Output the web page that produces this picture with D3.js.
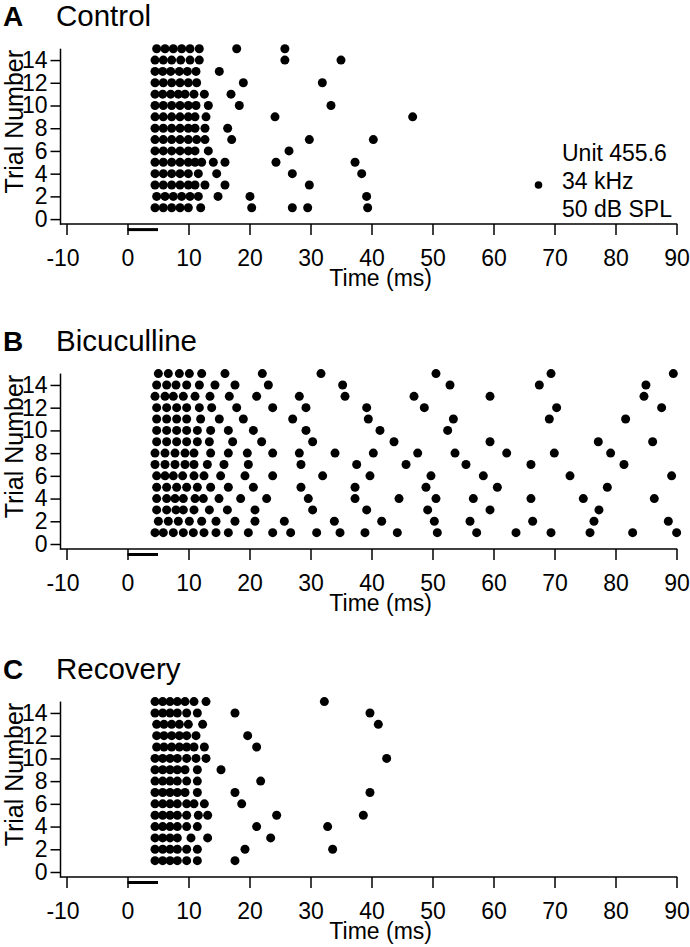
<!DOCTYPE html>
<html>
<head>
<meta charset="utf-8">
<script src="https://cdn.jsdelivr.net/npm/d3@7"></script>
<style>
  html, body { margin: 0; padding: 0; background: #fff; }
  svg text { font-family: "Liberation Sans", Arial, Helvetica, sans-serif; fill: #000; }
</style>
</head>
<body>
<svg id="chart" width="690" height="947"></svg>
<script>
// ---- DATA (spike times in ms, one array per trial, trial 1 first) ----
const panelLetters = ["A", "B", "C"];
const panelNames = ["Control", "Bicuculline", "Recovery"];
const xTicks = [-10, 0, 10, 20, 30, 40, 50, 60, 70, 80, 90];
const yTicks = [0, 2, 4, 6, 8, 10, 12, 14];
const stimulus = [0, 5];
const legendLines = ["Unit 455.6", "34 kHz", "50 dB SPL"];

const controlSpikes = [
  [4.51, 5.87, 7.24, 8.61, 9.97, 12.0, 20.36, 27.02, 29.54, 39.37],
  [4.78, 6.15, 7.51, 8.88, 10.25, 11.61, 14.84, 20.08, 39.2],
  [4.51, 5.87, 7.24, 8.61, 9.97, 11.07, 12.7, 15.98, 29.81],
  [4.51, 5.87, 7.24, 8.61, 9.97, 11.61, 14.62, 27.02, 38.39],
  [4.51, 5.87, 7.24, 8.61, 9.97, 11.07, 12.16, 14.07, 15.98, 24.34, 37.3],
  [4.51, 5.87, 7.24, 8.61, 9.97, 11.07, 13.25, 26.48],
  [4.51, 5.87, 7.24, 8.61, 9.97, 11.34, 12.7, 17.08, 29.81, 40.3],
  [4.51, 5.87, 7.24, 8.61, 9.97, 11.07, 12.7, 16.42],
  [4.51, 5.87, 7.24, 8.61, 9.97, 11.07, 12.87, 24.18, 46.75],
  [4.51, 5.87, 7.24, 8.61, 9.97, 11.23, 13.25, 18.33, 33.36],
  [4.51, 5.77, 7.08, 8.33, 9.43, 10.9, 12.6, 16.97],
  [4.51, 5.87, 7.24, 8.61, 9.97, 11.34, 18.99, 31.94],
  [4.51, 5.77, 7.08, 8.5, 9.81, 11.23, 15.05],
  [4.51, 5.87, 7.24, 8.72, 10.25, 11.77, 25.8, 35.0],
  [4.78, 6.15, 7.51, 8.88, 10.25, 11.77, 17.9, 25.8]
];

const bicucullineSpikes = [
  [4.51, 5.87, 7.51, 9.15, 10.79, 12.54, 14.51, 16.53, 19.81, 23.8, 26.75, 31.01, 34.84, 38.93, 44.23, 50.79, 57.24, 63.69, 69.43, 75.82, 82.81, 90.02],
  [5.06, 6.69, 8.33, 10.14, 12.16, 14.51, 17.62, 20.9, 25.71, 33.91, 41.67, 50.3, 56.15, 66.42, 76.47, 88.66],
  [4.78, 6.42, 7.95, 9.15, 10.9, 13.42, 16.37, 20.9, 30.35, 39.21, 49.21, 59.43, 77.29],
  [4.78, 6.42, 7.79, 9.15, 11.07, 12.43, 15.0, 18.55, 22.81, 29.64, 37.3, 44.51, 50.57, 56.69, 66.14, 74.72, 86.36],
  [4.78, 6.42, 8.06, 9.7, 11.45, 13.63, 16.53, 20.63, 28.44, 37.3, 48.93, 60.63, 78.66],
  [4.78, 6.15, 7.51, 9.04, 10.9, 12.54, 15.27, 19.26, 23.8, 31.99, 39.75, 49.75, 58.33, 72.54, 89.2],
  [4.51, 6.15, 7.79, 9.43, 10.9, 13.09, 15.82, 19.81, 28.44, 37.57, 45.66, 55.49, 66.14, 81.39],
  [4.51, 6.15, 7.79, 9.43, 10.9, 13.63, 16.53, 19.64, 23.8, 28.17, 34.02, 40.3, 47.57, 53.69, 62.16, 69.97, 79.2],
  [4.78, 6.42, 8.06, 9.7, 11.45, 13.42, 17.24, 21.99, 30.35, 43.69, 59.43, 77.18, 86.09],
  [4.78, 6.42, 8.06, 9.7, 11.45, 13.63, 16.53, 20.63, 29.26, 41.39, 52.49],
  [4.78, 6.42, 8.06, 9.7, 11.99, 15.05, 18.99, 27.08, 39.48, 53.42, 69.15, 81.66],
  [4.78, 6.42, 8.06, 9.7, 11.78, 13.8, 17.9, 23.8, 29.26, 39.21, 48.66, 70.35, 87.56],
  [4.51, 6.15, 7.51, 9.15, 11.07, 13.52, 16.69, 21.17, 28.17, 35.66, 46.97, 59.43, 84.67],
  [4.78, 6.42, 7.95, 9.7, 11.78, 14.34, 17.62, 23.09, 35.27, 52.87, 67.51, 84.99],
  [5.06, 6.69, 8.5, 10.14, 12.16, 15.98, 22.1, 31.72, 50.57, 69.43, 89.48]
];

const recoverySpikes = [
  [4.51, 5.77, 6.97, 8.17, 9.7, 11.45, 17.62],
  [4.51, 5.77, 6.97, 8.17, 9.7, 11.45, 19.26, 33.63],
  [4.51, 5.77, 6.97, 8.17, 10.41, 13.14, 23.47],
  [4.51, 5.77, 6.97, 8.17, 9.7, 11.45, 21.17, 32.81],
  [4.51, 5.77, 6.97, 8.17, 9.7, 11.61, 13.14, 24.45, 38.66],
  [4.51, 5.77, 6.97, 8.17, 9.7, 10.9, 12.6, 18.72],
  [4.51, 5.77, 6.97, 8.17, 9.43, 11.45, 17.62, 39.75],
  [4.51, 5.77, 6.97, 8.17, 9.7, 11.45, 21.83],
  [4.51, 5.77, 6.97, 8.17, 9.43, 11.45, 15.33],
  [4.51, 5.77, 6.97, 8.17, 9.7, 11.23, 12.87, 42.49],
  [4.78, 5.98, 7.24, 8.5, 9.7, 10.9, 12.6, 21.17],
  [4.78, 5.98, 7.24, 8.5, 9.7, 11.23, 19.7],
  [4.78, 5.98, 7.24, 8.5, 9.97, 12.32, 41.12],
  [4.51, 5.77, 6.97, 8.17, 9.7, 11.45, 17.62, 39.75],
  [4.51, 5.77, 6.97, 8.17, 9.43, 10.9, 12.87, 32.27]
];

const allSpikes = [controlSpikes, bicucullineSpikes, recoverySpikes];

// ---- LAYOUT ----
const svg = d3.select("#chart");
const panelTops = [48.7, 373.6, 701.6];   // y of trial 15
const rowH = 11.36;
const x = d3.scaleLinear().domain([-10, 90]).range([66.5, 676.5]);
const yAxisX = 60.5;
const tickFont = 23;

panelTops.forEach((top, p) => {
  const g = svg.append("g");
  const y = d3.scaleLinear().domain([0, 15]).range([top + 15 * rowH, top]);
  const axisY = y(0) + 5;

  // title
  g.append("text").attr("x", 3).attr("y", top - 22.5)
    .attr("font-size", 28).attr("font-weight", "bold").text(panelLetters[p]);
  g.append("text").attr("x", 56).attr("y", top - 22.5)
    .attr("font-size", 29.5).text(panelNames[p]);

  // y axis
  const yAx = d3.axisLeft(y).tickValues(yTicks).tickSize(10).tickPadding(3).tickSizeOuter(0);
  const yg = g.append("g").attr("transform", `translate(${yAxisX},0)`).call(yAx);
  yg.select(".domain").remove();
  g.append("line").attr("x1", yAxisX).attr("x2", yAxisX)
    .attr("y1", y(15)).attr("y2", axisY + 0.75)
    .attr("stroke", "#000").attr("stroke-width", 1.5);
  yg.selectAll(".tick line").attr("stroke", "#000").attr("stroke-width", 1.5);
  yg.selectAll(".tick text").attr("font-size", tickFont).attr("font-family", "Liberation Sans, Arial, sans-serif");

  // x axis
  const xAx = d3.axisBottom(x).tickValues(xTicks).tickSize(11).tickPadding(15).tickSizeOuter(0)
    .tickFormat(d3.format("d"));
  const xg = g.append("g").attr("transform", `translate(0,${axisY})`).call(xAx);
  xg.select(".domain").remove();
  g.append("line").attr("x1", yAxisX).attr("x2", x(90) + 0.75)
    .attr("y1", axisY).attr("y2", axisY)
    .attr("stroke", "#000").attr("stroke-width", 1.5);
  xg.selectAll(".tick line").attr("stroke", "#000").attr("stroke-width", 1.5);
  xg.selectAll(".tick text").attr("font-size", tickFont).attr("font-family", "Liberation Sans, Arial, sans-serif")
    .attr("dx", d => d < 0 ? -4 : 0)
    .text(d => d < 0 ? "-" + Math.abs(d) : String(d));

  // axis titles
  g.append("text").attr("x", x(41.5)).attr("y", axisY + 62)
    .attr("text-anchor", "middle").attr("font-size", 23).text("Time (ms)");
  g.append("text")
    .attr("transform", `translate(23,${top + 73}) rotate(-90)`)
    .attr("text-anchor", "middle").attr("font-size", 25).text("Trial Number");

  // stimulus bar
  g.append("line").attr("x1", x(stimulus[0])).attr("x2", x(stimulus[1]))
    .attr("y1", axisY + 5.5).attr("y2", axisY + 5.5)
    .attr("stroke", "#000").attr("stroke-width", 3);

  // spikes
  const pts = [];
  allSpikes[p].forEach((trial, i) => trial.forEach(t => pts.push({ t, trial: i + 1 })));
  g.append("g").selectAll("circle").data(pts).join("circle")
    .attr("cx", d => x(d.t)).attr("cy", d => y(d.trial)).attr("r", 4.5).attr("fill", "#000");

  // legend (panel A only)
  if (p === 0) {
    const lg = g.append("g");
    legendLines.forEach((s, i) => {
      lg.append("text").attr("x", 562).attr("y", 161 + i * 28).attr("font-size", 23).text(s);
    });
    lg.append("circle").attr("cx", 538.5).attr("cy", 185).attr("r", 3.8).attr("fill", "#000");
  }
});
</script>
</body>
</html>
